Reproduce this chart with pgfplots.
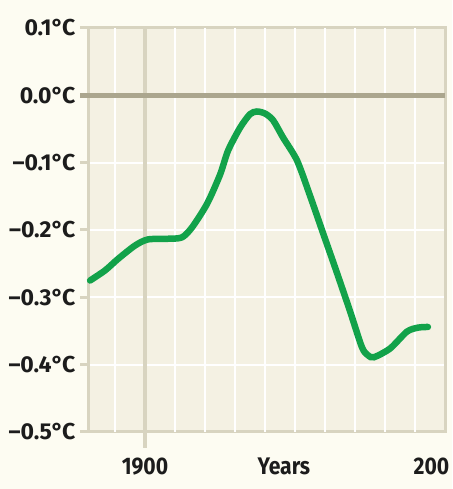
\documentclass[border=0pt]{standalone}
\usepackage{fontspec}
\setmainfont{Fira Sans}[FakeStretch=0.88]
\newfontfamily\ylabfont{Fira Sans}
\usepackage{pgfplots}
\pgfplotsset{compat=1.18}
\definecolor{pagebg}{HTML}{FDFCF2}
\definecolor{plotbg}{HTML}{F4F1E3}
\definecolor{frame}{HTML}{D8D4C0}
\definecolor{zeroline}{HTML}{ABA68E}
\definecolor{curve}{HTML}{12A24A}
\definecolor{txt}{HTML}{1C1C1C}
\newcommand{\yl}[1]{\mbox{\ylabfont\fontsize{23}{25}\selectfont\bfseries #1\kern-0.06em C}}
\begin{document}
\begin{tikzpicture}
\fill[pagebg] (0,0) rectangle (452pt,489pt);
\useasboundingbox (0,0) rectangle (452pt,489pt);
\begin{axis}[
  at={(88pt,57pt)}, anchor=south west,
  scale only axis, width=357pt, height=404pt,
  xmin=1881, xmax=2000, ymin=-0.5, ymax=0.1,
  clip=false,
  axis background/.style={fill=plotbg},
  axis line style={draw=frame, line width=3pt},
  ytick={-0.5,-0.4,-0.3,-0.2,-0.1,0,0.1},
  yticklabels={\yl{\textendash0.5°},\yl{\textendash0.4°},\yl{\textendash0.3°},\yl{\textendash0.2°},\yl{\textendash0.1°},\yl{0.0°},\yl{0.1°}},
  ytick pos=left, tick align=outside,
  major tick length=8pt,
  every tick/.style={draw=frame, line width=3pt},
  ymajorgrids, grid style={draw=white, line width=2pt},
  yticklabel style={text=txt, xshift=-1pt},
  xtick={1900,1946.3,1995.5},
  xticklabels={1900,Years,200},
  xtick pos=bottom,
  xtick style={draw=none},
  xticklabel style={font=\fontsize{24}{26}\selectfont\bfseries, text=txt, text height=17pt, text depth=0pt, yshift=-14pt},
  extra x ticks={1890,1910,1920,1930,1940,1950,1960,1970,1980,1990},
  extra x tick labels={},
  extra x tick style={grid=major, major tick length=0pt, tick style={draw=none}},
]
\draw[frame, line width=4pt, shorten >=-16pt] (axis cs:1900,0.1) -- (axis cs:1900,-0.5);
\draw[zeroline, line width=5pt, shorten <=-8pt] (axis cs:1881,0) -- (axis cs:2000,0);
\addplot[curve, line width=6.5pt, smooth, tension=0.45, line cap=round] coordinates {
(1881.7,-0.275) (1886.7,-0.260) (1891,-0.243) (1896.7,-0.223) (1901,-0.214)
(1907.7,-0.213) (1912.3,-0.211) (1915.7,-0.196) (1920.7,-0.161) (1925,-0.118)
(1927.7,-0.082) (1931.7,-0.048) (1935,-0.028) (1937.3,-0.024) (1940,-0.027)
(1942.7,-0.037) (1946,-0.0625) (1950.7,-0.097) (1955,-0.149) (1959.3,-0.204)
(1963.7,-0.260) (1968.3,-0.320) (1972.3,-0.374) (1974.3,-0.386) (1976.3,-0.389)
(1981.7,-0.376) (1987.3,-0.351) (1991,-0.345) (1994.3,-0.344)
};
\end{axis}
\end{tikzpicture}
\end{document}
